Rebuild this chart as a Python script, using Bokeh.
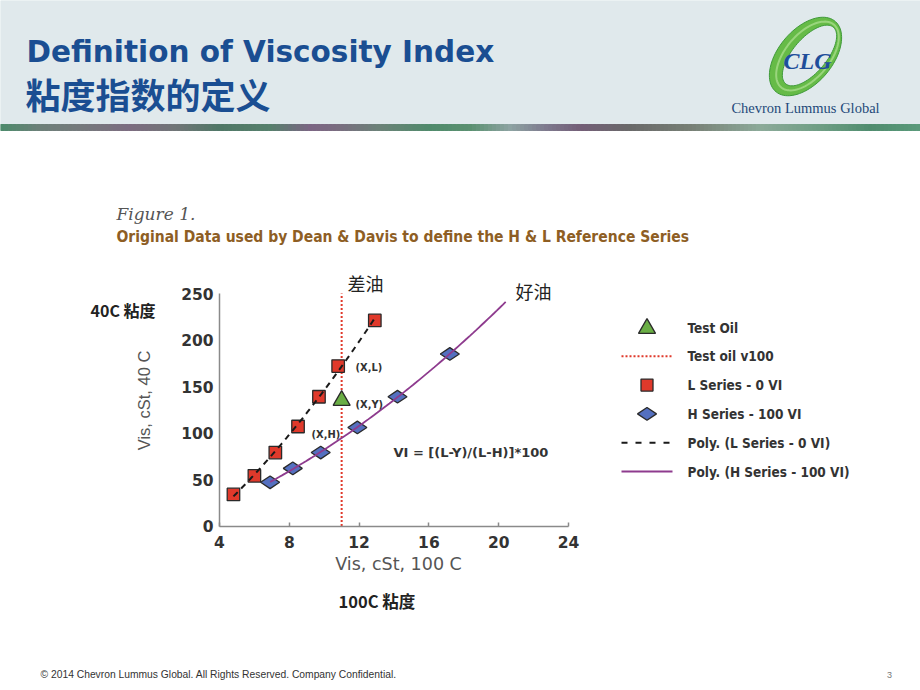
import numpy as np
from math import pi
from bokeh.plotting import figure
from bokeh.models import Range1d, Label, FixedTicker, LinearAxis
from bokeh.embed import file_html
from bokeh.resources import INLINE

# ---------------- data ----------------
l_x = [4.8, 6.0, 7.2, 8.5, 9.7, 10.8, 12.9]          # L series (0 VI), Vis @100C
l_y = [34, 54, 79, 107, 139, 172, 221]               # L series, Vis @40C
h_x = [6.9, 8.2, 9.8, 11.9, 14.2, 17.2]              # H series (100 VI), Vis @100C
h_y = [47, 62, 79, 106, 139, 185]                    # H series, Vis @40C
test_x = [11.0]                                      # test oil
test_y = [135]
test_v100 = 11.0                                     # test oil v100
h_trend_end = 20.4                                   # H poly trend forward to
x_ticks = [4, 8, 12, 16, 20, 24]
y_ticks = [0, 50, 100, 150, 200, 250]
legend_labels = ["Test Oil", "Test oil v100", "L Series - 0 VI", "H Series - 100 VI",
                 "Poly. (L Series - 0 VI)", "Poly. (H Series - 100 VI)"]

# styles
RED, BLUE, GREEN, PURPLE, EDGE = "#E0392B", "#5470C0", "#6AAE45", "#8E3B8E", "#2a2a2a"

W, H = 920, 690
# slide figure: default ranges are the slide's pixel grid (y downward)
p = figure(width=W, height=H, x_range=Range1d(0, W), y_range=Range1d(H, 0),
           output_backend="svg", toolbar_location=None, min_border=0,
           x_axis_type=None, y_axis_type=None, outline_line_color=None)
p.grid.visible = False

# chart plot area on the slide
FL, FR, FT, FB = 219.0, 568.0, 293.0, 525.5
X0, X1, Y0, Y1 = x_ticks[0], x_ticks[-1], y_ticks[0], y_ticks[-1]
kx = (FR - FL) / (X1 - X0)
ky = (FB - FT) / (Y1 - Y0)
p.extra_x_ranges = {"c": Range1d(X0 - FL / kx, X0 + (W - FL) / kx)}
p.extra_y_ranges = {"c": Range1d(Y0 - (H - FB) / ky, Y0 + FB / ky)}

# ---------------- header ----------------
p.quad(left=[0], right=[W], top=[0], bottom=[124], color="#E0E9EC")
stops = [(0, "#4B8B6B"), (40, "#6D7F79"), (80, "#757A7C"), (130, "#7C6C80"), (175, "#707577"),
         (220, "#4F7766"), (270, "#56806C"), (310, "#7B6583"), (335, "#7A6B80"), (380, "#6B8278"),
         (430, "#4F8A6B"), (470, "#5A9070"), (510, "#8DA3A2"), (545, "#7E7A8E"), (580, "#735E77"),
         (630, "#696969"), (690, "#777F75"), (760, "#8CAA99"), (820, "#6E9E84"), (870, "#4F8C6E"),
         (920, "#5A9A7B")]
def hx2rgb(h):
    return np.array([int(h[i:i + 2], 16) for i in (1, 3, 5)], float)
sx = np.array([s[0] for s in stops], float)
sc = np.array([hx2rgb(s[1]) for s in stops])
lefts = np.arange(0, W, 4)
cols = []
for xx in lefts + 2:
    rgb = [np.interp(xx, sx, sc[:, k]) for k in range(3)]
    cols.append("#%02x%02x%02x" % tuple(int(round(v)) for v in rgb))
p.quad(left=lefts, right=lefts + 4, top=[124] * len(lefts), bottom=[130] * len(lefts),
       fill_color=cols, line_color=cols)

def lab(x, y, text, font="DejaVu Sans", size="12px", style="normal", color="#333333",
        align="left", angle=0, baseline="middle"):
    p.add_layout(Label(x=x, y=y, text=text, text_font=font, text_font_size=size,
                       text_font_style=style, text_color=color, text_align=align,
                       text_baseline=baseline, angle=angle))

lab(26, 51, "Definition of Viscosity Index", size="29.5px", style="bold", color="#1A4E92")
lab(25, 93, "粘度指数的定义", font="Noto Sans CJK SC", size="35px", style="bold", color="#1A4E92")

# logo: green leaf ribbon
def leaf(cx, cy, a, b, th, n=90):
    t = np.linspace(0, 2 * pi, n)
    u, v = a * np.cos(t), b * np.sin(t)
    ct, st = np.cos(th), np.sin(th)
    xs = cx + u * ct + v * st
    ys = cy + u * st - v * ct
    return list(xs), list(ys)
th = 0.70
ox, oy = leaf(805, 56, 27, 46, th)
ix, iy = leaf(809, 55, 17, 37, th)
p.multi_polygons(xs=[[[ox, ix]]], ys=[[[oy, iy]]], fill_color="#66BB47", line_color="#3F9A3A",
                 line_width=1)
ix2, iy2 = leaf(807, 55.5, 22, 41, th)
p.line(ix2, iy2, line_color="#A6DC8A", line_width=2, line_alpha=0.8)
lab(807, 60, "CLG", font="Liberation Serif", size="24px", style="bold italic", color="#1F4E9A",
    align="center")
lab(805, 107, "Chevron Lummus Global", font="Liberation Serif", size="14.5px", color="#1F4A7A",
    align="center")

# ---------------- chart ----------------
xax = LinearAxis(x_range_name="c", y_range_name="c", fixed_location=Y0, bounds=(X0, X1),
                 ticker=FixedTicker(ticks=x_ticks))
yax = LinearAxis(x_range_name="c", y_range_name="c", fixed_location=X0, bounds=(Y0, Y1),
                 ticker=FixedTicker(ticks=y_ticks))
for ax in (xax, yax):
    ax.major_label_text_font = "DejaVu Sans"
    ax.major_label_text_font_style = "bold"
    ax.major_label_text_font_size = "15.5px"
    ax.major_label_text_color = "#333333"
    ax.axis_line_color = "#8a8a8a"
    ax.axis_line_width = 1.5
    ax.minor_tick_line_color = None
    ax.major_tick_out = 0
xax.major_tick_in = 4
xax.major_tick_line_color = "#8a8a8a"
xax.major_tick_line_width = 1.5
xax.major_label_standoff = 10
yax.major_tick_line_color = None
yax.major_label_standoff = 6
p.add_layout(xax, "below")
p.add_layout(yax, "left")

# trendlines (polynomial fits of the series)
cl = np.polyfit(l_x, l_y, 2)
lxs = np.linspace(l_x[0], l_x[-1], 60)
ch = np.polyfit(h_x, h_y, 2)
hxs = np.linspace(h_x[0], h_trend_end, 80)

C = dict(x_range_name="c", y_range_name="c")
vline = dict(line_color=RED, line_dash="2 2", line_width=2)
lline = dict(line_color="#1a1a1a", line_dash="6 5", line_width=2)
hline = dict(line_color=PURPLE, line_width=1.8)
sq = dict(marker="square", size=12.5, fill_color=RED, line_color=EDGE, line_width=1.3)
dm = dict(marker="diamond", angle=pi / 2, size=19, fill_color=BLUE, line_color=EDGE, line_width=1.3)
tr = dict(marker="triangle", size=17, fill_color=GREEN, line_color=EDGE, line_width=1.3)

p.line([test_v100, test_v100], [Y0, Y1], **vline, **C)
p.scatter(l_x, l_y, **sq, **C)
p.scatter(h_x, h_y, **dm, **C)
p.line(lxs, np.polyval(cl, lxs), **lline, **C)
p.line(hxs, np.polyval(ch, hxs), **hline, **C)
p.scatter(test_x, test_y, **tr, **C)

# legend (slide pixel grid)
LG_X0, LG_X1, LG_TX, LG_Y0, LG_DY = 621, 672, 687, 327, 28.8
LG_CX = (LG_X0 + LG_X1) / 2
ry = [LG_Y0 + i * LG_DY for i in range(len(legend_labels))]
p.scatter([LG_CX], [ry[0] + 1], **tr)
p.line([LG_X0, LG_X1], [ry[1], ry[1]], **vline)
p.scatter([LG_CX], [ry[2]], **{**sq, "size": 12})
p.scatter([LG_CX], [ry[3]], **dm)
p.line([LG_X0, LG_X1 - 3], [ry[4], ry[4]], **{**lline, "line_dash": "6 8"})
p.line([LG_X0, LG_X1], [ry[5], ry[5]], **hline)
for yy, t in zip(ry, legend_labels):
    lab(LG_TX, yy, t, font="DejaVu Sans Condensed", size="13.5px", style="bold")

lab(398, 563, "Vis, cSt, 100 C", size="17.5px", color="#555555", align="center")
lab(143, 400, "Vis, cSt, 40 C", font="Liberation Sans", size="16.5px", color="#555555",
    align="center", angle=pi / 2)
lab(90, 309, "40C 粘度", font="Noto Sans CJK SC", size="16px", style="bold", color="#222222")
lab(338, 600, "100C 粘度", font="Noto Sans CJK SC", size="16.5px", style="bold", color="#222222")
lab(347, 282, "差油", font="Noto Sans CJK SC", size="18px", color="#222222")
lab(515, 290, "好油", font="Noto Sans CJK SC", size="18px", color="#222222")
lab(355, 367, "(X,L)", font="DejaVu Sans Condensed", size="11px", style="bold")
lab(355, 404, "(X,Y)", font="DejaVu Sans Condensed", size="11px", style="bold")
lab(311, 434, "(X,H)", font="DejaVu Sans Condensed", size="11px", style="bold")
lab(393, 452, "VI = [(L-Y)/(L-H)]*100", size="13px", style="bold")
lab(116, 213, "Figure 1.", font="DejaVu Serif", size="17px", style="italic", color="#555555")
lab(116, 236, "Original Data used by Dean & Davis to define the H & L Reference Series",
    font="DejaVu Sans Condensed", size="15.5px", style="bold", color="#8E5E24")
lab(40, 674, "© 2014 Chevron Lummus Global. All Rights Reserved. Company Confidential.",
    font="Liberation Sans", size="10.3px", color="#333333")
lab(889, 674, "3", font="Liberation Sans", size="9px", color="#777777", align="center")

open("out.html", "w").write(file_html(p, INLINE))
